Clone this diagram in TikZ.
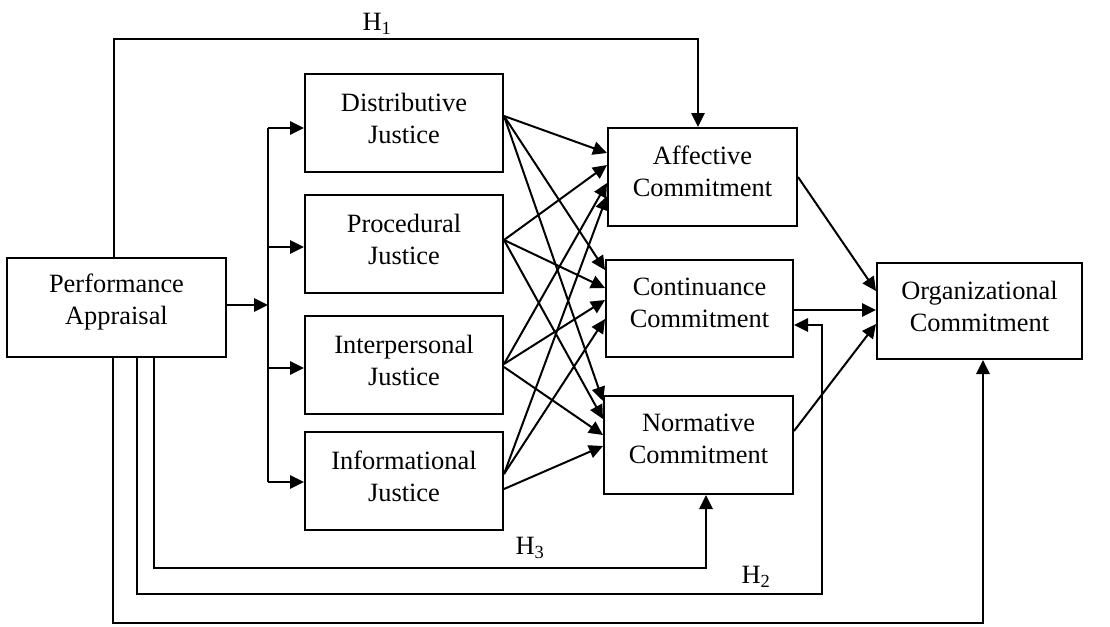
\documentclass[tikz,border=0pt]{standalone}
\usepackage{fontspec}
\setmainfont{Liberation Serif}
\usetikzlibrary{arrows.meta,calc}
\newcommand\pxlen[1]{#1*0.75pt}
\begin{document}
\begin{tikzpicture}[x=0.75pt,y=-0.75pt,
  box/.style={draw, line width=1.5pt, inner sep=0pt},
  txt/.style={align=center, font=\fontsize{19.8pt}{24pt}\selectfont, inner sep=0pt},
  hyp/.style={font=\fontsize{19.8pt}{24pt}\selectfont, inner sep=0pt},
  link/.style={line width=1.5pt},
  arr/.style={link, -{Triangle[length=10.5pt,width=10pt]}}]
\useasboundingbox (0,0) rectangle (1110,626);

% boxes
\node[box, minimum width=\pxlen{219}, minimum height=\pxlen{99}] (pa) at (116.5,307.5) {};
\node[box, minimum width=\pxlen{198}, minimum height=\pxlen{98}] (dist) at (404,123) {};
\node[box, minimum width=\pxlen{198}, minimum height=\pxlen{98}] (proc) at (404,244) {};
\node[box, minimum width=\pxlen{198}, minimum height=\pxlen{98}] (inter) at (404,365) {};
\node[box, minimum width=\pxlen{198}, minimum height=\pxlen{98}] (info) at (404,481) {};
\node[box, minimum width=\pxlen{189}, minimum height=\pxlen{98}] (aff) at (702.5,177) {};
\node[box, minimum width=\pxlen{187}, minimum height=\pxlen{97}] (cont) at (699.5,308.5) {};
\node[box, minimum width=\pxlen{189}, minimum height=\pxlen{98}] (norm) at (698.5,445) {};
\node[box, minimum width=\pxlen{205}, minimum height=\pxlen{96}] (org) at (979.5,311) {};

% box texts
\node[txt] (pa-t) at ($(pa.center)+(0,-5)$) {Performance\\Appraisal};
\node[txt] (dist-t) at ($(dist.center)+(0,-5)$) {Distributive\\Justice};
\node[txt] (proc-t) at ($(proc.center)+(0,-5)$) {Procedural\\Justice};
\node[txt] (inter-t) at ($(inter.center)+(0,-5)$) {Interpersonal\\Justice};
\node[txt] (info-t) at ($(info.center)+(0,-5)$) {Informational\\Justice};
\node[txt] (aff-t) at ($(aff.center)+(0,-6)$) {Affective\\Commitment};
\node[txt] (cont-t) at ($(cont.center)+(0,-6)$) {Continuance\\Commitment};
\node[txt] (norm-t) at ($(norm.center)+(0,-6)$) {Normative\\Commitment};
\node[txt] (org-t) at ($(org.center)+(0,-5)$) {Organizational\\Commitment};

% appraisal to the four justice dimensions
\coordinate (b1) at (268,128);
\coordinate (b2) at (268,247);
\coordinate (b3) at (268,368);
\coordinate (b4) at (268,482);
\coordinate (bm) at (268,305);
\draw[arr] (pa.east |- bm) -- (bm);
\draw[link] (b1) -- (b4);
\draw[arr] (b1) -- (b1 -| dist.west);
\draw[arr] (b2) -- (b2 -| proc.west);
\draw[arr] (b3) -- (b3 -| inter.west);
\draw[arr] (b4) -- (b4 -| info.west);

% justice dimensions to commitment components
\foreach \s/\so/\t/\to in {
  dist/43/aff/26, dist/43/cont/11, dist/43/norm/6,
  proc/46/aff/38, proc/46/cont/29, proc/46/norm/24,
  inter/49/aff/56, inter/49/cont/41, inter/52/norm/40,
  info/43/aff/69, info/43/cont/60, info/58/norm/51}
  \draw[arr] ($(\s.north east)+(0,\so)$) -- ($(\t.north west)+(0,\to)$);

% commitment components to organizational commitment
\draw[arr] (aff.east) -- ($(org.north west)+(0,29)$);
\draw[arr] ($(cont.north east)+(0,51)$) -- ($(org.north west)+(0,48)$);
\draw[arr] ($(norm.north east)+(0,36)$) -- ($(org.north west)+(0,62)$);

% hypothesised direct paths
\coordinate (h1l) at (114,39);
\coordinate (h1r) at (698,39);
\draw[arr] (pa.north -| h1l) -- (h1l) -- (h1r) -- (h1r |- aff.north);
\node[hyp] (h1) at (377,24) {H\textsubscript{1}};

\coordinate (h3l) at (154,568);
\coordinate (h3r) at (706,568);
\draw[arr] (pa.south -| h3l) -- (h3l) -- (h3r) -- (h3r |- norm.south);
\node[hyp] (h3) at (530,548) {H\textsubscript{3}};

\coordinate (h2l) at (137,594);
\coordinate (h2r) at (822,594);
\coordinate (h2t) at (822,325);
\draw[arr] (pa.south -| h2l) -- (h2l) -- (h2r) -- (h2t) -- (h2t -| cont.east);
\node[hyp] (h2) at (756,577) {H\textsubscript{2}};

\coordinate (h4l) at (113,623);
\coordinate (h4r) at (983,623);
\draw[arr] (pa.south -| h4l) -- (h4l) -- (h4r) -- (h4r |- org.south);
\end{tikzpicture}
\end{document}
